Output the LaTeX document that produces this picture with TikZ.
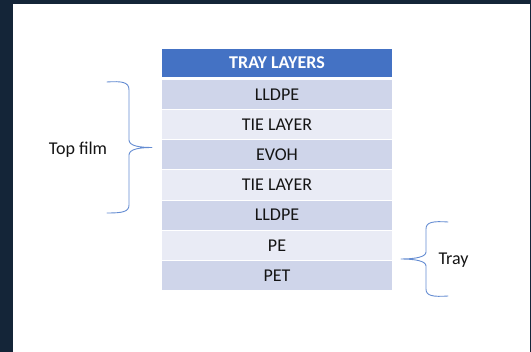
\documentclass[tikz,border=0pt]{standalone}
\usepackage{fontspec}
\setmainfont{Carlito}
\definecolor{frame}{RGB}{20,37,56}
\definecolor{headblue}{RGB}{68,114,196}
\definecolor{rowdark}{RGB}{207,213,234}
\definecolor{rowlight}{RGB}{233,235,245}
\definecolor{bracecol}{RGB}{100,140,210}
\definecolor{ink}{RGB}{20,20,20}
\tikzset{
  layer/.style={rectangle, inner sep=0pt, minimum width=230pt, minimum height=29.2pt,
    font=\fontsize{18}{20}\selectfont, text=ink},
  dark/.style={layer, fill=rowdark},
  light/.style={layer, fill=rowlight},
  header/.style={layer, fill=headblue, minimum height=28pt, text=white,
    font=\fontsize{18}{20}\selectfont\bfseries},
  brace/.style={draw=bracecol, line width=0.9pt, line cap=round, line join=round},
  label/.style={font=\fontsize{18}{20}\selectfont, text=ink, inner sep=0pt}
}
\begin{document}
\begin{tikzpicture}[x=1pt, y=-1pt]
  % page and dark frame
  \useasboundingbox (0,0) rectangle (531,352);
  \fill[frame] (0,0) rectangle (531,352);
  \fill[white] (13,4) rectangle (530,352);

  % table of layers
  \node[header] (head) at (277,63) {TRAY LAYERS};
  \node[dark]  (r1) at (277,94.6)  {LLDPE};
  \node[light] (r2) at (277,124.7) {TIE LAYER};
  \node[dark]  (r3) at (277,154.9) {EVOH};
  \node[light] (r4) at (277,185.0) {TIE LAYER};
  \node[dark]  (r5) at (277,215.2) {LLDPE};
  \node[light] (r6) at (277,245.3) {PE};
  \node[dark]  (r7) at (277,275.5) {PET};

  % top film brace (opening left, tip towards the table)
  \node[label] (topfilm) at (78,150) {Top film};
  \coordinate (tf) at (152,147.5);
  \draw[brace] (107,82) .. controls (122,81) and (129,82) .. (129,90)
    -- (129,140) .. controls (129,146) and (140,147.5) .. (tf)
    .. controls (140,147.5) and (129,149) .. (129,155)
    -- (129,205) .. controls (129,212) and (122,213) .. (107,213);

  % tray brace (opening right, tip towards the table)
  \node[label] (tray) at (453.5,260) {Tray};
  \coordinate (tr) at (401,259);
  \draw[brace] (448,222) .. controls (433,221) and (426,222) .. (426,229)
    -- (426,252) .. controls (426,257) and (415,259) .. (tr)
    .. controls (415,259) and (426,261) .. (426,266)
    -- (426,289) .. controls (426,296) and (433,297) .. (448,296);
\end{tikzpicture}
\end{document}
